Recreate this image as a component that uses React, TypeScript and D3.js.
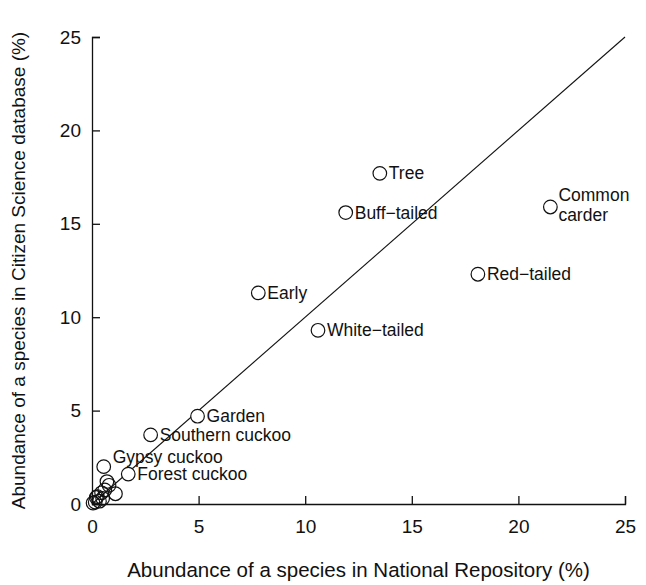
import React, { useEffect, useRef } from 'react';
import * as d3 from 'd3';

const W = 646;
const H = 585;

// species abundance (%) : National Repository (x) vs Citizen Science (y)
const speciesNames = [
  'Tree', 'Buff\u2212tailed', 'Common carder', 'Red\u2212tailed', 'Early',
  'White\u2212tailed', 'Garden', 'Southern cuckoo', 'Gypsy cuckoo', 'Forest cuckoo',
];
const nationalValues = [13.5, 11.9, 21.5, 18.1, 7.8, 10.6, 4.95, 2.75, 0.55, 1.7];
const citizenValues = [17.7, 15.6, 15.9, 12.3, 11.3, 9.3, 4.7, 3.7, 2.0, 1.6];

// unlabelled species crowded near the origin
const minorNational = [0.7, 0.8, 1.1, 0.45, 0.2, 0.5, 0.15, 0.35, 0.6, 0.05, 0.25];
const minorCitizen = [1.2, 1.0, 0.55, 0.6, 0.35, 0.3, 0.1, 0.15, 0.75, 0.05, 0.4];

const xTicks = [0, 5, 10, 15, 20, 25];
const yTicks = [0, 5, 10, 15, 20, 25];

export default function App() {
  const ref = useRef<SVGSVGElement>(null);

  useEffect(() => {
    const svg = d3.select(ref.current);
    svg.selectAll('*').remove();

    const margin = { left: 92, right: 21, top: 37, bottom: 81 };
    const x = d3.scaleLinear().domain([0, 25]).range([margin.left, W - margin.right]);
    const y = d3.scaleLinear().domain([0, 25]).range([H - margin.bottom, margin.top]);
    const font = 'Liberation Sans, Arial, Helvetica, sans-serif';

    const g = svg.append('g');

    // 1:1 line
    g.append('line')
      .attr('x1', x(0)).attr('y1', y(0))
      .attr('x2', x(25)).attr('y2', y(25))
      .attr('stroke', '#111').attr('stroke-width', 1.1);

    // axes, inward ticks
    const xAxis = d3.axisBottom(x).tickValues(xTicks).tickSize(-8).tickPadding(13);
    const yAxis = d3.axisLeft(y).tickValues(yTicks).tickSize(-8).tickPadding(11);
    const gx = g.append('g').attr('transform', `translate(0,${y(0)})`).call(xAxis);
    const gy = g.append('g').attr('transform', `translate(${x(0)},0)`).call(yAxis);
    [gx, gy].forEach((a) => {
      a.select('.domain').attr('stroke', '#111').attr('stroke-width', 1.3);
      a.selectAll('.tick line').attr('stroke', '#111').attr('stroke-width', 1.3);
      a.selectAll('.tick text')
        .attr('fill', '#111')
        .style('font-family', font)
        .style('font-size', '19px');
    });
    gx.selectAll('.tick text').attr('dy', '0.85em');

    // minor points
    const minor = d3.zip(minorNational, minorCitizen);
    g.append('g')
      .selectAll('circle')
      .data(minor)
      .enter()
      .append('circle')
      .attr('cx', (d) => x(d[0]))
      .attr('cy', (d) => y(d[1]))
      .attr('r', 6.8)
      .attr('fill', 'none')
      .attr('stroke', '#111')
      .attr('stroke-width', 1.2);

    // labelled points
    const pts = speciesNames.map((n, i) => ({ name: n, nx: nationalValues[i], cy: citizenValues[i] }));
    const pg = g.append('g');
    pg.selectAll('circle')
      .data(pts)
      .enter()
      .append('circle')
      .attr('cx', (d) => x(d.nx))
      .attr('cy', (d) => y(d.cy))
      .attr('r', 6.8)
      .attr('fill', 'white')
      .attr('stroke', '#111')
      .attr('stroke-width', 1.2);

    pts.forEach((d) => {
      const px = x(d.nx);
      const py = y(d.cy);
      const t = pg.append('text')
        .attr('fill', '#111')
        .style('font-family', font)
        .style('font-size', '17.5px');
      if (d.name === 'Common carder') {
        t.append('tspan').attr('x', px + 8).attr('y', py - 6).text('Common');
        t.append('tspan').attr('x', px + 8).attr('y', py + 14).text('carder');
      } else if (d.name === 'Gypsy cuckoo') {
        t.attr('x', px + 9).attr('y', py - 4).text(d.name);
      } else {
        t.attr('x', px + 9).attr('y', py + 6).text(d.name);
      }
    });

    // axis titles
    svg.append('text')
      .attr('x', (x(0) + x(25)) / 2 + 0)
      .attr('y', 577)
      .attr('text-anchor', 'middle')
      .attr('fill', '#111')
      .style('font-family', font)
      .style('font-size', '20.5px')
      .text('Abundance of a species in National Repository (%)');

    svg.append('text')
      .attr('transform', `translate(25,${(y(0) + y(25)) / 2}) rotate(-90)`)
      .attr('text-anchor', 'middle')
      .attr('fill', '#111')
      .style('font-family', font)
      .style('font-size', '19px')
      .text('Abundance of a species in Citizen Science database (%)');
  }, []);

  return (
    <div>
      <style>{'body{margin:0;background:#fff}'}</style>
      <svg ref={ref} width={W} height={H} style={{ display: 'block' }} />
    </div>
  );
}
